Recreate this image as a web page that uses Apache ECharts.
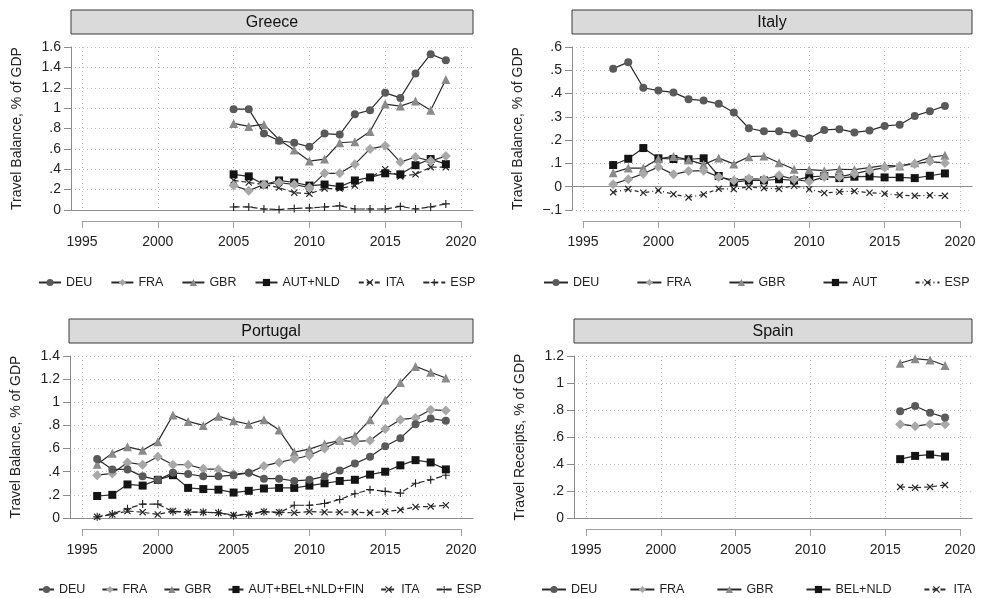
<!DOCTYPE html>
<html>
<head>
<meta charset="utf-8">
<script src="https://cdn.jsdelivr.net/npm/echarts@6/dist/echarts.min.js"></script>
<style>
  html, body { margin: 0; padding: 0; background: #fff; }
  #chart { width: 981px; height: 598px; }
</style>
</head>
<body>
<div id="chart"></div>
<script>
// ---- data ----
var grcYears = [2005, 2006, 2007, 2008, 2009, 2010, 2011, 2012, 2013, 2014, 2015, 2016, 2017, 2018, 2019];
var grcDEU = [0.99, 0.99, 0.75, 0.68, 0.66, 0.62, 0.75, 0.74, 0.94, 0.98, 1.15, 1.10, 1.34, 1.53, 1.47];
var grcFRA = [0.24, 0.19, 0.25, 0.27, 0.25, 0.22, 0.36, 0.36, 0.45, 0.60, 0.63, 0.47, 0.52, 0.48, 0.53];
var grcGBR = [0.85, 0.82, 0.84, 0.69, 0.59, 0.48, 0.50, 0.66, 0.67, 0.77, 1.04, 1.02, 1.07, 0.98, 1.28];
var grcAUTNLD = [0.35, 0.33, 0.25, 0.29, 0.27, 0.24, 0.25, 0.23, 0.29, 0.32, 0.36, 0.35, 0.44, 0.50, 0.45];
var grcITA = [0.29, 0.27, 0.25, 0.22, 0.17, 0.16, 0.21, 0.21, 0.24, 0.32, 0.40, 0.33, 0.35, 0.42, 0.42];
var grcESP = [0.03, 0.03, 0.01, 0.005, 0.015, 0.02, 0.03, 0.04, 0.01, 0.01, 0.01, 0.035, 0.01, 0.03, 0.06];

var itaYears = [1997, 1998, 1999, 2000, 2001, 2002, 2003, 2004, 2005, 2006, 2007, 2008, 2009, 2010, 2011, 2012, 2013, 2014, 2015, 2016, 2017, 2018, 2019];
var itaDEU = [0.507, 0.535, 0.425, 0.413, 0.405, 0.376, 0.37, 0.356, 0.319, 0.251, 0.238, 0.238, 0.228, 0.208, 0.244, 0.247, 0.233, 0.241, 0.261, 0.266, 0.304, 0.324, 0.347];
var itaFRA = [0.011, 0.032, 0.056, 0.085, 0.053, 0.067, 0.069, 0.042, 0.027, 0.035, 0.032, 0.049, 0.032, 0.022, 0.042, 0.042, 0.056, 0.07, 0.082, 0.089, 0.098, 0.108, 0.102];
var itaGBR = [0.06, 0.08, 0.08, 0.12, 0.13, 0.115, 0.095, 0.123, 0.098, 0.129, 0.132, 0.103, 0.075, 0.073, 0.069, 0.075, 0.073, 0.082, 0.092, 0.089, 0.103, 0.126, 0.135];
var itaAUT = [0.093, 0.12, 0.166, 0.122, 0.119, 0.118, 0.122, 0.046, 0.02, 0.027, 0.027, 0.032, 0.027, 0.042, 0.046, 0.037, 0.043, 0.044, 0.04, 0.04, 0.037, 0.047, 0.057];
var itaESP = [-0.024, -0.01, -0.026, -0.016, -0.032, -0.046, -0.033, -0.009, -0.01, -0.001, -0.006, -0.009, 0.004, -0.011, -0.027, -0.022, -0.019, -0.026, -0.03, -0.036, -0.039, -0.037, -0.039];

var prtYears = [1996, 1997, 1998, 1999, 2000, 2001, 2002, 2003, 2004, 2005, 2006, 2007, 2008, 2009, 2010, 2011, 2012, 2013, 2014, 2015, 2016, 2017, 2018, 2019];
var prtDEU = [0.51, 0.42, 0.42, 0.36, 0.33, 0.39, 0.38, 0.36, 0.36, 0.37, 0.39, 0.34, 0.34, 0.32, 0.33, 0.36, 0.41, 0.47, 0.53, 0.62, 0.69, 0.81, 0.86, 0.84];
var prtFRA = [0.37, 0.385, 0.48, 0.46, 0.53, 0.46, 0.46, 0.425, 0.42, 0.38, 0.39, 0.45, 0.48, 0.51, 0.54, 0.60, 0.67, 0.66, 0.67, 0.77, 0.85, 0.865, 0.935, 0.93];
var prtGBR = [0.465, 0.56, 0.615, 0.585, 0.66, 0.89, 0.835, 0.80, 0.88, 0.84, 0.81, 0.85, 0.76, 0.57, 0.595, 0.64, 0.67, 0.71, 0.85, 1.02, 1.17, 1.31, 1.26, 1.21];
var prtAUTBEL = [0.19, 0.20, 0.29, 0.28, 0.33, 0.37, 0.26, 0.25, 0.245, 0.22, 0.235, 0.255, 0.26, 0.26, 0.28, 0.30, 0.32, 0.33, 0.375, 0.40, 0.455, 0.50, 0.48, 0.42];
var prtITA = [0.01, 0.03, 0.06, 0.05, 0.03, 0.06, 0.05, 0.05, 0.045, 0.025, 0.035, 0.055, 0.05, 0.045, 0.055, 0.05, 0.05, 0.05, 0.045, 0.055, 0.07, 0.095, 0.10, 0.11];
var prtESP = [0.01, 0.035, 0.08, 0.12, 0.12, 0.055, 0.05, 0.05, 0.045, 0.02, 0.03, 0.055, 0.045, 0.11, 0.11, 0.125, 0.16, 0.21, 0.245, 0.23, 0.215, 0.30, 0.33, 0.37];

var espYears = [2016, 2017, 2018, 2019];
var espDEU = [0.79, 0.83, 0.78, 0.745];
var espFRA = [0.695, 0.68, 0.695, 0.695];
var espGBR = [1.146, 1.18, 1.17, 1.13];
var espBELNLD = [0.436, 0.46, 0.47, 0.455];
var espITA = [0.23, 0.225, 0.23, 0.245];

// ---- styles ----
var FONT = '"Liberation Sans", Arial, Helvetica, sans-serif';
var symX = 'path://M0,1.2L1.2,0L5,3.8L8.8,0L10,1.2L6.2,5L10,8.8L8.8,10L5,6.2L1.2,10L0,8.8L3.8,5Z';
var symPlus = 'path://M4.3,0H5.7V4.3H10V5.7H5.7V10H4.3V5.7H0V4.3H4.3Z';

var marks = {
  circle: { symbol: 'circle', size: 8, color: '#5a5a5a', dash: 'solid' },
  diamond: { symbol: 'diamond', size: 10, color: '#a8a8a8', dash: 'solid' },
  triangle: { symbol: 'triangle', size: 9, color: '#8a8a8a', dash: 'solid' },
  square: { symbol: 'rect', size: 8, color: '#141414', dash: 'solid' },
  cross: { symbol: symX, size: 7, color: '#222', dash: [5, 3] },
  crossdot: { symbol: symX, size: 7, color: '#222', dash: [4, 3, 1, 3] },
  plus: { symbol: symPlus, size: 8, color: '#222', dash: [6, 3] }
};

var panels = [
  {
    key: 'GRC', title: 'Greece', ytitle: 'Travel Balance, % of GDP',
    ymin: 0, ymax: 1.6, yint: 0.2,
    plot: { left: 71, top: 47, width: 402, height: 163 }, xLeft: 82, xWidth: 379,
    box: { x: 71, y: 10, w: 402, h: 24 },
    legend: { left: 33, top: 271, itemWidth: 22, itemGap: 18 },
    series: [
      ['DEU', 'circle', grcYears, grcDEU],
      ['FRA', 'diamond', grcYears, grcFRA],
      ['GBR', 'triangle', grcYears, grcGBR],
      ['AUT+NLD', 'square', grcYears, grcAUTNLD],
      ['ITA', 'cross', grcYears, grcITA],
      ['ESP', 'plus', grcYears, grcESP]
    ]
  },
  {
    key: 'ITA', title: 'Italy', ytitle: 'Travel Balance, % of GDP',
    ymin: -0.1, ymax: 0.6, yint: 0.1,
    plot: { left: 572, top: 47, width: 400, height: 163 }, xLeft: 583, xWidth: 377,
    box: { x: 572, y: 10, w: 400, h: 24 },
    legend: { left: 538, top: 271, itemWidth: 24, itemGap: 37 },
    series: [
      ['DEU', 'circle', itaYears, itaDEU],
      ['FRA', 'diamond', itaYears, itaFRA],
      ['GBR', 'triangle', itaYears, itaGBR],
      ['AUT', 'square', itaYears, itaAUT],
      ['ESP', 'crossdot', itaYears, itaESP]
    ]
  },
  {
    key: 'PRT', title: 'Portugal', ytitle: 'Travel Balance, % of GDP',
    ymin: 0, ymax: 1.4, yint: 0.2,
    plot: { left: 70, top: 356, width: 403, height: 162 }, xLeft: 82, xWidth: 379,
    box: { x: 69, y: 319, w: 404, h: 24 },
    legend: { left: 33, top: 578, itemWidth: 15, itemGap: 16 },
    series: [
      ['DEU', 'circle', prtYears, prtDEU],
      ['FRA', 'diamond', prtYears, prtFRA],
      ['GBR', 'triangle', prtYears, prtGBR],
      ['AUT+BEL+NLD+FIN', 'square', prtYears, prtAUTBEL],
      ['ITA', 'cross', prtYears, prtITA],
      ['ESP', 'plus', prtYears, prtESP]
    ]
  },
  {
    key: 'ESP', title: 'Spain', ytitle: 'Travel Receipts, % of GDP',
    ymin: 0, ymax: 1.2, yint: 0.2,
    plot: { left: 574, top: 356, width: 398, height: 162 }, xLeft: 586, xWidth: 374,
    box: { x: 574, y: 319, w: 398, h: 24 },
    legend: { left: 536, top: 578, itemWidth: 24, itemGap: 32 },
    series: [
      ['DEU', 'circle', espYears, espDEU],
      ['FRA', 'diamond', espYears, espFRA],
      ['GBR', 'triangle', espYears, espGBR],
      ['BEL+NLD', 'square', espYears, espBELNLD],
      ['ITA', 'cross', espYears, espITA]
    ]
  }
];

function yFmt(v) {
  var s = String(Math.round(v * 10) / 10);
  if (s === '0') return '0';
  return s.replace(/^0\./, '.').replace(/^-0\./, '\u2212.');
}

var grids = [], xAxes = [], yAxes = [], series = [], legends = [], graphics = [];

panels.forEach(function (p, i) {
  var a = 2 * i, b = 2 * i + 1;
  // grid a: full plot region (y axis, horizontal grid, zero line)
  grids.push({ left: p.plot.left, top: p.plot.top, width: p.plot.width, height: p.plot.height, containLabel: false });
  // grid b: data region, 1995..2020 span
  grids.push({ left: p.xLeft, top: p.plot.top, width: p.xWidth, height: p.plot.height, containLabel: false });

  xAxes.push({
    gridIndex: a, type: 'value', min: 0, max: 1,
    axisLine: { show: true, onZero: true, lineStyle: { color: '#8c8c8c', width: 1.2 } },
    axisTick: { show: false }, axisLabel: { show: false }, splitLine: { show: false }
  });
  xAxes.push({
    gridIndex: b, type: 'value', min: 1995, max: 2020, interval: 5, offset: 11,
    axisLine: { show: true, onZero: false, lineStyle: { color: '#a0a0a0', width: 1 } },
    axisTick: { show: true, length: 7, lineStyle: { color: '#a0a0a0' } },
    axisLabel: {
      margin: 14, fontSize: 14, color: '#222', fontFamily: FONT,
      showMinLabel: true, showMaxLabel: true,
      formatter: function (v) { return String(v); }
    },
    splitLine: { show: true, lineStyle: { type: [1, 3], color: '#bdbdbd', width: 1 } }
  });

  yAxes.push({
    gridIndex: a, type: 'value', min: p.ymin, max: p.ymax, interval: p.yint,
    name: p.ytitle, nameLocation: 'middle', nameGap: 47,
    nameTextStyle: { fontSize: 14, color: '#222', fontFamily: FONT },
    axisLine: { show: true, lineStyle: { color: '#8c8c8c', width: 1 } },
    axisTick: { show: true, length: 7, lineStyle: { color: '#8c8c8c' } },
    axisLabel: { margin: 10, fontSize: 14, color: '#222', fontFamily: FONT, formatter: yFmt },
    splitLine: { show: true, lineStyle: { type: [1, 3], color: '#bdbdbd', width: 1 } }
  });
  yAxes.push({ gridIndex: b, type: 'value', min: p.ymin, max: p.ymax, show: false });

  var names = [];
  p.series.forEach(function (s, k) {
    var m = marks[s[1]];
    var nm = p.key + '|' + s[0];
    names.push(nm);
    series.push({
      name: nm, type: 'line', xAxisIndex: b, yAxisIndex: b,
      data: s[2].map(function (yr, j) { return [yr, s[3][j]]; }),
      symbol: m.symbol, symbolSize: m.size, showSymbol: true,
      itemStyle: { color: m.color },
      lineStyle: { color: '#2a2a2a', width: 1.2, type: m.dash },
      z: 10 - k, silent: true, animation: false
    });
  });

  legends.push({
    data: names, left: p.legend.left, top: p.legend.top, orient: 'horizontal',
    itemWidth: p.legend.itemWidth, itemHeight: 9, itemGap: p.legend.itemGap,
    textStyle: { fontSize: 12.5, color: '#222', fontFamily: FONT },
    formatter: function (n) { return n.split('|')[1]; },
    selectedMode: false
  });

  graphics.push({
    type: 'rect', shape: { x: p.box.x, y: p.box.y, width: p.box.w, height: p.box.h },
    style: { fill: '#dadada', stroke: '#3a3a3a', lineWidth: 1 }, z: 5
  });
  graphics.push({
    type: 'text', x: p.box.x + p.box.w / 2, y: p.box.y + p.box.h / 2 + 1, z: 6,
    style: { text: p.title, font: '16px ' + FONT, fill: '#111', align: 'center', verticalAlign: 'middle' }
  });
});

var chart = echarts.init(document.getElementById('chart'));
chart.setOption({
  animation: false,
  backgroundColor: '#fff',
  grid: grids,
  xAxis: xAxes,
  yAxis: yAxes,
  legend: legends,
  series: series,
  graphic: graphics
});
window.addEventListener('resize', function () { chart.resize(); });
</script>
</body>
</html>
